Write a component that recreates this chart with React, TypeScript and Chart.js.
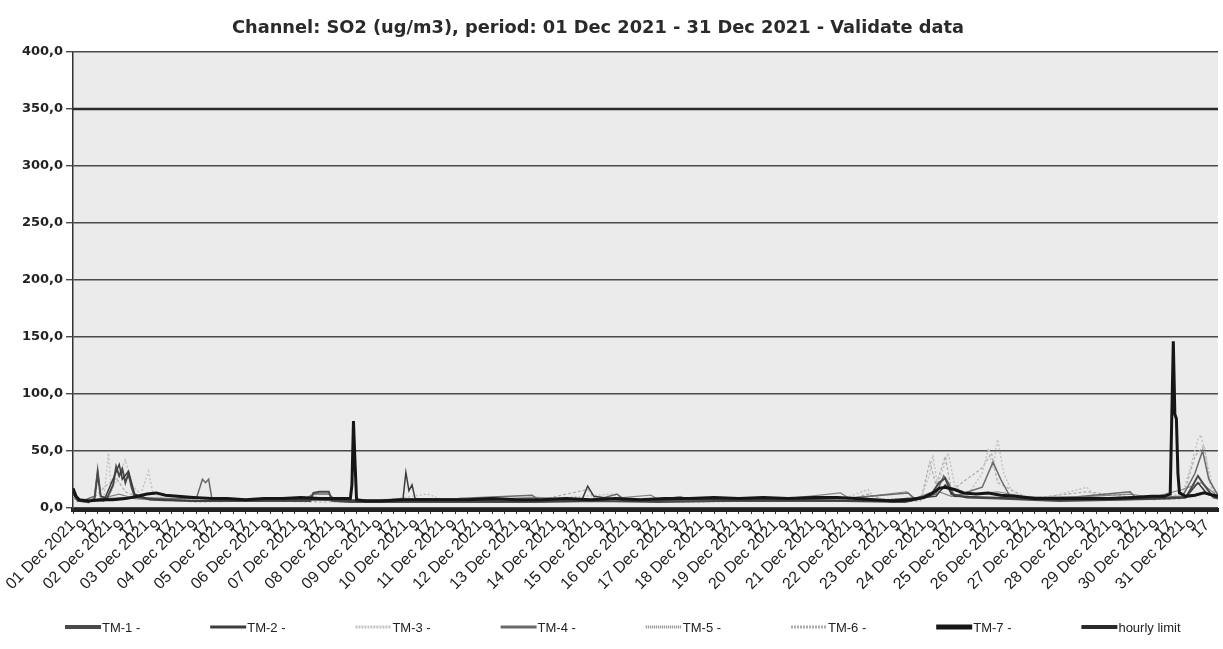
import React, { useEffect, useRef } from "react";
import { Chart, registerables } from "chart.js";

Chart.register(...registerables);

const TITLE = "Channel: SO2 (ug/m3), period: 01 Dec 2021 - 31 Dec 2021 - Validate data";

const dayLabels = [
  "01 Dec 2021", "02 Dec 2021", "03 Dec 2021", "04 Dec 2021", "05 Dec 2021", "06 Dec 2021",
  "07 Dec 2021", "08 Dec 2021", "09 Dec 2021", "10 Dec 2021", "11 Dec 2021", "12 Dec 2021",
  "13 Dec 2021", "14 Dec 2021", "15 Dec 2021", "16 Dec 2021", "17 Dec 2021", "18 Dec 2021",
  "19 Dec 2021", "20 Dec 2021", "21 Dec 2021", "22 Dec 2021", "23 Dec 2021", "24 Dec 2021",
  "25 Dec 2021", "26 Dec 2021", "27 Dec 2021", "28 Dec 2021", "29 Dec 2021", "30 Dec 2021",
  "31 Dec 2021",
];
const hourLabels = ["", "9", "17"];
const yTickValues = [0, 50, 100, 150, 200, 250, 300, 350, 400];

// [hour index from 01 Dec 01:00, value ug/m3]
const tm1: [number, number][] = [
  [0, 14], [3, 6], [10, 5], [14, 8], [16, 30], [18, 10], [22, 8], [26, 20], [28, 36], [30, 28],
  [32, 34], [34, 22], [36, 30], [38, 18], [40, 10], [48, 8], [60, 7], [80, 6], [100, 6], [120, 6],
  [140, 6], [154, 6], [156, 13], [160, 14], [166, 14], [168, 6], [180, 5], [190, 5], [220, 5],
  [260, 5], [300, 5], [340, 6], [380, 5], [420, 6], [460, 6], [500, 6], [540, 5], [556, 10],
  [562, 22], [566, 26], [570, 12], [580, 9], [600, 8], [640, 6], [680, 7], [710, 8], [722, 9],
  [726, 18], [730, 28], [734, 20], [740, 9], [743, 8],
];
const tm2: [number, number][] = [
  [0, 12], [4, 7], [20, 6], [30, 38], [32, 25], [36, 32], [40, 12], [50, 7], [80, 6], [120, 7],
  [160, 7], [184, 6], [214, 6], [216, 31], [218, 15], [220, 20], [222, 8], [240, 7], [280, 6],
  [330, 6], [334, 19], [338, 10], [360, 6], [400, 7], [440, 7], [480, 7], [520, 6], [560, 10],
  [566, 20], [572, 10], [600, 9], [640, 7], [700, 8], [722, 9], [730, 22], [736, 12], [743, 9],
];
const tm3: [number, number][] = [
  [0, 10], [6, 5], [20, 8], [23, 48], [25, 15], [30, 30], [34, 42], [38, 20], [44, 12], [49, 32],
  [52, 12], [60, 8], [100, 6], [150, 7], [200, 6], [230, 12], [240, 7], [300, 7], [350, 12],
  [360, 7], [400, 8], [450, 7], [500, 8], [516, 16], [520, 8], [550, 7], [556, 30], [558, 46],
  [561, 20], [568, 48], [572, 20], [580, 10], [590, 30], [594, 52], [597, 35], [600, 60],
  [604, 30], [610, 12], [630, 8], [658, 18], [664, 9], [700, 8], [720, 12], [726, 40], [730, 60],
  [732, 64], [735, 45], [740, 15], [743, 12],
];
const tm4: [number, number][] = [
  [0, 11], [6, 6], [14, 10], [16, 34], [18, 10], [24, 8], [40, 9], [60, 8], [80, 8], [84, 25],
  [86, 22], [88, 25], [90, 9], [110, 7], [150, 7], [156, 12], [166, 12], [170, 7], [200, 7],
  [250, 8], [298, 11], [302, 7], [340, 7], [353, 12], [358, 7], [400, 7], [450, 8], [500, 8],
  [542, 13], [546, 8], [560, 12], [565, 28], [568, 22], [572, 10], [590, 18], [597, 40],
  [602, 25], [608, 10], [640, 8], [686, 14], [690, 8], [720, 10], [728, 30], [733, 50], [737, 25],
  [743, 11],
];
const tm5: [number, number][] = [
  [0, 9], [8, 5], [30, 12], [40, 8], [60, 6], [100, 6], [140, 7], [180, 6], [230, 8], [260, 7],
  [300, 9], [340, 7], [375, 11], [380, 7], [394, 10], [400, 7], [450, 6], [498, 13], [504, 8],
  [541, 14], [546, 8], [560, 15], [570, 10], [600, 14], [620, 9], [660, 10], [686, 12], [700, 9],
  [720, 16], [732, 22], [743, 10],
];
const tm6: [number, number][] = [
  [0, 8], [10, 4], [22, 20], [28, 26], [34, 14], [44, 8], [80, 5], [120, 6], [160, 5], [200, 5],
  [240, 6], [300, 6], [334, 16], [340, 6], [400, 5], [460, 6], [500, 6], [516, 12], [530, 5],
  [550, 6], [556, 40], [560, 20], [566, 45], [570, 15], [590, 35], [596, 48], [600, 22], [620, 8],
  [658, 14], [700, 7], [720, 8], [728, 45], [734, 55], [738, 20], [743, 9],
];
const tm7: [number, number][] = [
  [0, 17], [2, 10], [4, 7], [10, 6], [18, 7], [26, 7], [34, 8], [42, 10], [48, 12], [54, 13],
  [60, 11], [68, 10], [78, 9], [90, 8], [100, 8], [112, 7], [124, 8], [136, 8], [148, 9],
  [160, 8], [172, 8], [180, 8], [181, 20], [182, 76], [183, 40], [184, 7], [190, 6], [200, 6],
  [212, 7], [224, 7], [240, 7], [256, 7], [272, 8], [288, 7], [304, 7], [320, 8], [336, 7],
  [352, 8], [368, 7], [384, 8], [400, 8], [416, 9], [432, 8], [448, 9], [464, 8], [480, 9],
  [496, 9], [508, 8], [520, 7], [532, 6], [544, 7], [552, 9], [558, 13], [562, 17], [566, 18],
  [572, 16], [578, 13], [586, 12], [594, 13], [602, 11], [612, 10], [624, 8], [640, 8],
  [656, 8], [672, 8], [688, 9], [700, 10], [708, 10], [712, 12], [714, 146], [715, 82],
  [716, 78], [717, 30], [718, 13], [722, 10], [728, 11], [734, 13], [740, 11], [743, 10],
];
const hourlyLimit: [number, number][] = [[0, 350], [743, 350]];

const seriesNames = ["TM-1 -", "TM-2 -", "TM-3 -", "TM-4 -", "TM-5 -", "TM-6 -", "TM-7 -", "hourly limit"];
const seriesData = [tm1, tm2, tm3, tm4, tm5, tm6, tm7, hourlyLimit];
const seriesColors = ["#4a4a4a", "#3c3c3c", "#c4c4c4", "#6a6a6a", "#858585", "#acacac", "#161616", "#2a2a2a"];
const seriesWidths = [2, 1.5, 1.5, 1.5, 1.2, 1.2, 3, 2.5];
const seriesDash: number[][] = [[], [], [2, 2], [], [], [3, 2], [], []];
const seriesOrder = [2, 1, 4, 2, 3, 4, 0, 0];
const legendWidths = [4, 3, 3, 3, 3, 3, 5, 4];
const legendDash: number[][] = [[], [], [2, 1], [], [1, 1], [2, 1], [], []];

const plotBg = {
  id: "plotBg",
  beforeDraw(chart: any) {
    const { ctx, chartArea } = chart;
    ctx.save();
    ctx.fillStyle = "#ffffff";
    ctx.fillRect(0, 0, chart.width, chart.height);
    ctx.fillStyle = "#ebebeb";
    ctx.fillRect(chartArea.left, chartArea.top, chartArea.right - chartArea.left, chartArea.bottom - chartArea.top);
    ctx.restore();
  },
};

const titleAndLegend = {
  id: "titleAndLegend",
  afterDraw(chart: any) {
    const { ctx } = chart;
    ctx.save();
    ctx.fillStyle = "#2a2a2a";
    ctx.font = "bold 17.8px 'DejaVu Sans', sans-serif";
    ctx.textAlign = "center";
    ctx.textBaseline = "middle";
    ctx.fillText(TITLE, 598, 28);

    const y = 627;
    chart.data.datasets.forEach((ds: any, i: number) => {
      const x0 = 65 + i * 145.2;
      ctx.beginPath();
      ctx.strokeStyle = ds.borderColor;
      ctx.lineWidth = legendWidths[i];
      ctx.setLineDash(legendDash[i]);
      ctx.moveTo(x0, y);
      ctx.lineTo(x0 + 36, y);
      ctx.stroke();
      ctx.setLineDash([]);
      ctx.fillStyle = "#222222";
      ctx.font = "13px 'Liberation Sans', Arial, sans-serif";
      ctx.textBaseline = "middle";
      ctx.textAlign = "left";
      ctx.fillText(ds.label, x0 + 37, y + 1);
    });
    ctx.restore();
  },
};

export default function App() {
  const ref = useRef<HTMLCanvasElement | null>(null);
  useEffect(() => {
    if (!ref.current) return;
    const chart = new Chart(ref.current, {
      type: "line",
      data: {
        datasets: seriesData.map((d, i) => ({
          label: seriesNames[i],
          data: d.map(([x, y]) => ({ x, y })),
          borderColor: seriesColors[i],
          backgroundColor: seriesColors[i],
          borderWidth: seriesWidths[i],
          borderDash: seriesDash[i],
          pointRadius: 0,
          tension: 0,
          fill: false,
          order: seriesOrder[i],
        })),
      },
      options: {
        animation: false,
        responsive: false,
        layout: { padding: { left: 0, right: 5, top: 52, bottom: 49 } },
        plugins: {
          tooltip: { enabled: false },
          legend: { display: false },
          title: { display: false },
        },
        scales: {
          x: {
            type: "linear",
            min: 0,
            max: 743,
            afterBuildTicks: (axis: any) => {
              const t: any[] = [];
              for (let d = 0; d < dayLabels.length; d++) {
                for (let k = 0; k < hourLabels.length; k++) t.push({ value: d * 24 + k * 8 });
              }
              axis.ticks = t;
            },
            afterFit: (s: any) => {
              s.height = 90;
            },
            ticks: {
              autoSkip: false,
              minRotation: 45,
              maxRotation: 45,
              color: "#222222",
              padding: 2,
              font: { family: "'Liberation Sans', Arial, sans-serif", size: 16 },
              callback: (v: any) => {
                const d = Math.floor(v / 24);
                const k = Math.round((v - d * 24) / 8);
                return k === 0 ? dayLabels[d] : hourLabels[k];
              },
            },
            grid: { display: true, drawOnChartArea: false, color: "#333333", tickLength: 4 },
            border: { display: true, color: "#222222", width: 4 },
          },
          y: {
            min: -2,
            max: 400,
            afterBuildTicks: (axis: any) => {
              axis.ticks = yTickValues.map((v) => ({ value: v }));
            },
            afterFit: (s: any) => {
              s.width = 73;
            },
            ticks: {
              color: "#222222",
              padding: 3,
              font: { family: "'DejaVu Sans', sans-serif", size: 13, weight: "bold" },
              callback: (v: any) => Number(v).toFixed(1).replace(".", ","),
            },
            grid: { color: "#4a4a4a", lineWidth: 1.4, tickLength: 7 },
            border: { display: true, color: "#333333", width: 1.5 },
          },
        },
      },
      plugins: [plotBg, titleAndLegend],
    } as any);
    return () => chart.destroy();
  }, []);
  return (
    <div style={{ position: "absolute", left: 0, top: 0, width: 1223, height: 649, background: "#fff" }}>
      <canvas ref={ref} width={1223} height={649} />
    </div>
  );
}
